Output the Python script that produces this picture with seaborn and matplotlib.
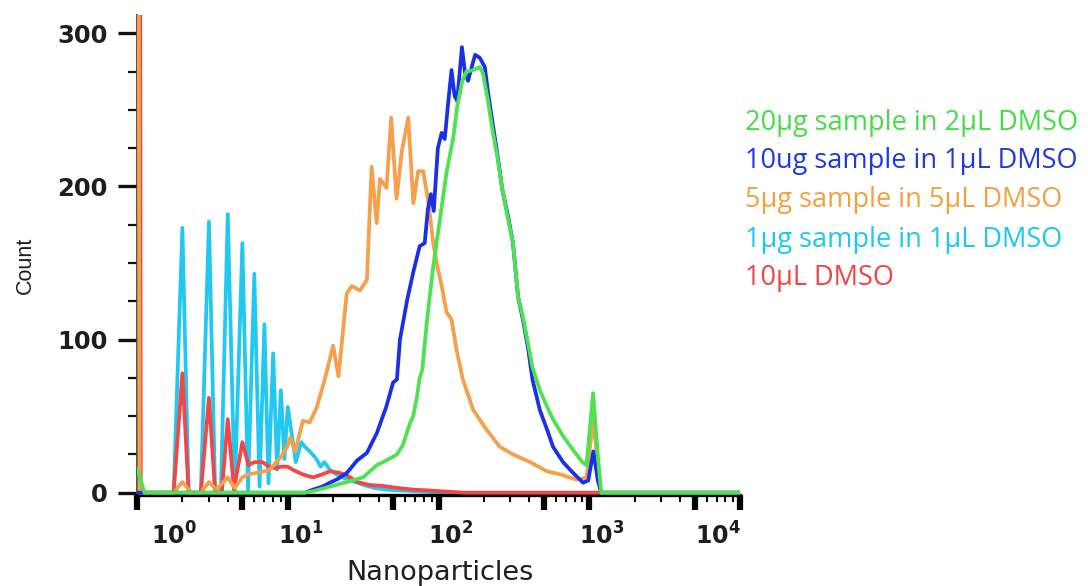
import matplotlib
matplotlib.use("Agg")
import matplotlib.pyplot as plt
import matplotlib.transforms as mtransforms
from matplotlib.ticker import FixedLocator, NullFormatter
import pandas as pd
import seaborn as sns

# ---------------- data ----------------
labels = ["20\u00b5g sample in 2\u00b5L DMSO",
          "10ug sample in 1\u00b5L DMSO",
          "5\u00b5g sample in 5\u00b5L DMSO",
          "1\u00b5g sample in 1\u00b5L DMSO",
          "10\u00b5L DMSO"]

green_x = [1.0, 1.12, 13.0, 14.7, 19.0, 24.7, 31.6, 39.0, 45.0, 53.0, 58.0, 65.0, 68.0, 72.0,
           75.0, 78.0, 84.0, 92.0, 102.0, 113.0, 122.0, 125.0, 133.0, 143.0, 153.0, 169.0,
           188.0, 197.0, 212.0, 228.0, 245.0, 265.0, 290.0, 312.0, 337.0, 363.0, 392.0,
           420.0, 470.0, 526.0, 575.0, 670.0, 780.0, 900.0, 960.0, 1060.0, 1140.0, 1200.0, 10000.0]
green_y = [16, 0, 0, 1, 4, 7, 10, 18, 21, 25, 31, 46, 50, 63,
           75, 80, 113, 147, 178, 209, 226, 231, 252, 268, 275, 276,
           278, 274, 257, 237, 220, 198, 178, 163, 128, 115, 98,
           82, 67, 56, 48, 37, 28, 20, 18, 65, 24, 0, 0]

blue_x = [1.0, 13.0, 14.7, 17.0, 19.0, 21.5, 24.7, 28.8, 33.5, 39.0, 45.0, 50.0, 53.0, 55.5,
          62.0, 68.0, 75.0, 81.0, 85.0, 89.0, 93.0, 99.0, 105.0, 110.0, 116.0, 122.0, 128.0,
          133.0, 143.0, 150.0, 157.0, 166.0, 175.0, 188.0, 203.0, 212.0, 228.0, 245.0, 265.0,
          290.0, 312.0, 337.0, 363.0, 392.0, 420.0, 470.0, 526.0, 575.0, 670.0, 780.0, 910.0,
          985.0, 1065.0, 1140.0, 1200.0, 10000.0]
blue_y = [0, 0, 2, 4, 6.5, 9, 13, 21, 26, 39, 56, 72, 74, 100,
          126, 144, 161, 163, 185, 195, 184, 225, 235, 231, 255, 276, 259,
          256, 291, 274, 269, 278, 286, 284, 278, 263, 242, 222, 198,
          180, 163, 128, 113, 95, 74, 54, 41, 30, 20, 13, 6.5,
          8, 27, 8, 0, 0]

orange_x = [1.0, 1.04, 1.75, 2.0, 2.3, 2.65, 3.0, 3.35, 4.0, 4.45, 5.0, 5.45, 6.3, 7.0, 7.6,
            8.4, 9.1, 9.9, 10.4, 11.2, 12.6, 14.0, 15.6, 17.6, 20.0, 21.7, 24.6, 26.6, 30.1,
            33.5, 36.0, 38.9, 40.9, 45.2, 48.5, 52.7, 56.9, 63.0, 68.1, 73.2, 79.2, 85.6,
            92.3, 97.2, 105.0, 113.0, 122.0, 132.0, 145.0, 170.0, 209.0, 255.0, 312.0, 405.0,
            523.0, 640.0, 828.0, 960.0, 1060.0, 1196.0, 10000.0]
orange_y = [1000, 0, 0, 7, 0, 0, 7, 2, 10, 3, 10, 12, 13, 14, 15,
            20, 24, 30, 36, 27, 47, 46, 56, 74, 96, 76, 130, 135, 132,
            139, 213, 176, 205, 199, 245, 192, 222, 245, 189, 210, 210, 190,
            163, 150, 135, 118, 113, 93, 74, 54, 41, 30, 25, 20,
            14, 12, 8.5, 10, 48, 0, 0]

cyan_x = [1.0, 1.75, 2.0, 2.2, 2.65, 3.0, 3.3, 3.6, 4.0, 4.45, 5.0, 5.45, 6.0, 6.5, 7.0, 7.45,
          8.0, 8.5, 9.0, 9.5, 10.0, 11.3, 12.3, 13.0, 14.0, 15.5, 16.5, 17.5, 19.0, 21.0,
          24.5, 28.0, 32.0, 38.0, 45.0, 55.0, 68.0, 85.0, 110.0, 150.0, 10000.0]
cyan_y = [0, 0, 173, 0, 0, 177, 0, 0, 182, 0, 163, 2, 143, 4, 110, 6,
          91, 15, 67, 22, 56, 20, 33, 30, 27, 22, 17, 20, 15, 12,
          9, 7, 5, 3, 2, 1.5, 1, 0.5, 0, 0, 0]

red_x = [1.0, 1.03, 1.06, 1.75, 2.0, 2.2, 2.65, 3.0, 3.3, 3.65, 4.0, 4.4, 5.0, 5.5, 6.0, 6.8,
         7.5, 8.3, 9.1, 10.0, 10.8, 12.5, 14.7, 17.0, 19.0, 22.0, 25.0, 29.0, 35.0, 42.0,
         55.0, 68.0, 85.0, 102.0, 125.0, 145.0, 10000.0]
red_y = [1000, 1000, 0, 0, 78, 0, 0, 62, 0, 0, 48, 2, 33, 18, 20, 20,
         17, 16, 17, 17, 15, 12, 10, 12, 14, 13, 11, 7, 5, 4.5,
         3, 2, 1.5, 1, 0.5, 0, 0]

major_x = [1, 5, 10, 50, 100, 500, 1000, 5000, 10000]
major_x_labels = ["$10^{0}$", "", "$10^{1}$", "", "$10^{2}$", "", "$10^{3}$", "", "$10^{4}$"]
minor_x = [k * 10 ** d for d in range(4) for k in (2, 3, 4, 6, 7, 8, 9)]
major_y = [0, 100, 200, 300]
minor_y = [25, 50, 75, 125, 150, 175, 225, 250, 275]

# ---------------- styling ----------------
line_colors = ["#4ee24e", "#1a30e8", "#f5a04a", "#22c8f0", "#f04848"]
text_colors = ["#44dd44", "#1f3be0", "#f5a040", "#1cc8f0", "#f04545"]
zorders = [6, 5, 4, 2, 3]

sns.set_style("ticks")
plt.rcParams["font.family"] = ["DejaVu Sans"]
plt.rcParams["mathtext.default"] = "bf"

fig = plt.figure(figsize=(10.88, 5.86), dpi=100)
ax = fig.add_axes([137 / 1088, 1 - 495 / 586, 603 / 1088, 480 / 586])
ax.set_xscale("log")

series = [(green_x, green_y), (blue_x, blue_y), (orange_x, orange_y),
          (cyan_x, cyan_y), (red_x, red_y)]
for (xs, ys), lab, c, z in zip(series, labels, line_colors, zorders):
    df = pd.DataFrame({"x": xs, "y": ys})
    sns.lineplot(data=df, x="x", y="y", ax=ax, color=c, lw=2.7,
                 estimator=None, sort=False, zorder=z, label=lab, legend=False)

ax.set_xlim(1, 10000)
ax.set_ylim(-1.5, 312)

ax.xaxis.set_major_locator(FixedLocator(major_x))
ax.set_xticklabels(major_x_labels)
ax.xaxis.set_minor_locator(FixedLocator(minor_x))
ax.xaxis.set_minor_formatter(NullFormatter())
ax.yaxis.set_major_locator(FixedLocator(major_y))
ax.yaxis.set_minor_locator(FixedLocator(minor_y))
ax.yaxis.set_minor_formatter(NullFormatter())

ax.tick_params(axis="x", which="major", length=11, width=4.5, color="black",
               labelsize=17, labelcolor="#1e1e1e", pad=9)
ax.tick_params(axis="x", which="minor", length=5, width=1.5, color="black")
ax.tick_params(axis="y", which="major", length=14, width=2.4, color="#111111",
               labelsize=17.5, labelcolor="#1e1e1e", pad=7)
ax.tick_params(axis="y", which="minor", length=6.5, width=1.6, color="#111111")
for lbl in ax.get_yticklabels():
    lbl.set_fontweight("bold")

x_offsets = [37, 0, 13, 0, 12, 0, 12, 0, -22]
for lbl, dx in zip(ax.get_xticklabels(), x_offsets):
    lbl.set_transform(lbl.get_transform() +
                      mtransforms.ScaledTranslation(dx / 100, 0, fig.dpi_scale_trans))

for s in ("top", "right"):
    ax.spines[s].set_visible(False)
ax.spines["left"].set_linewidth(1.3)
ax.spines["left"].set_color("#444444")
ax.spines["bottom"].set_linewidth(2.4)
ax.spines["bottom"].set_color("black")

ax.set_xlabel("Nanoparticles", fontsize=19.5, color="#1e1e1e")
ax.xaxis.label.set_va("baseline")
ax.xaxis.set_label_coords(0.503, (495 - 580) / 480)
ax.set_ylabel("Count", fontsize=15.5, color="#1e1e1e",
              family=["Liberation Sans Narrow", "Liberation Sans", "DejaVu Sans"])
ax.yaxis.label.set_va("center")
ax.yaxis.set_label_coords((25 - 137) / 603, (495 - 265) / 480)

baselines = [130, 168, 207, 247, 285]
for lab, c, b in zip(labels, text_colors, baselines):
    fig.text(745 / 1088, 1 - b / 586, lab, color=c, fontsize=19.5, va="baseline",
             ha="left", family=["Open Sans", "DejaVu Sans"])

fig.savefig("out.png", dpi=100)
